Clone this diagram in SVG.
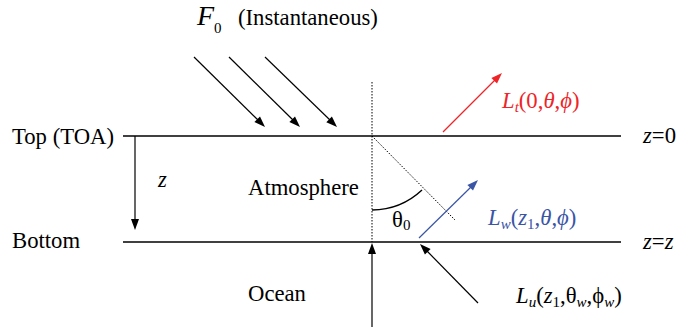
<svg xmlns="http://www.w3.org/2000/svg" width="680" height="327" viewBox="0 0 680 327">
<style>
.t{font-size:22.7px}
.i{font-style:italic}
.sub{font-size:15px}
.red{fill:#ee2428}
.blue{fill:#3a55a6}
.ln{stroke:#000;stroke-width:1.5;fill:none}
.ar{stroke:#000;stroke-width:1.2;fill:none}
.hd{fill:#000;stroke:none}
.dot{stroke:#000;stroke-width:1;stroke-dasharray:1.5 1.5;fill:none}
</style>
<rect width="680" height="327" fill="#fff"/>
<g id="layers">
<line class="ln" x1="123" y1="136" x2="621" y2="136"/>
<line class="ln" x1="123" y1="242" x2="621" y2="242"/>
</g>
<g id="connectors">
<line class="ar" x1="194" y1="57" x2="259" y2="121"/>
<polygon class="hd" points="265,127 254.4,122.1 260,116.4"/>
<line class="ar" x1="229" y1="57" x2="294" y2="121"/>
<polygon class="hd" points="300,127 289.4,122.1 295,116.4"/>
<line class="ar" x1="265" y1="57" x2="331" y2="121"/>
<polygon class="hd" points="337,127 326.3,122.2 331.9,116.5"/>
<line class="ar" x1="135" y1="136" x2="135" y2="221"/>
<polygon class="hd" points="135,230 131,219 139,219"/>
<line class="dot" x1="372" y1="82" x2="372" y2="242"/>
<line class="dot" x1="372" y1="136" x2="455" y2="220"/>
<path class="ln" d="M372,210 A74,74 0 0 0 422,190" style="stroke-width:1.4"/>
<line x1="443" y1="132" x2="496" y2="79" stroke="#ee2428" stroke-width="1.2"/>
<polygon points="502,73 497,83.6 491.4,78" fill="#ee2428"/>
<line x1="419" y1="238" x2="472" y2="186" stroke="#3a55a6" stroke-width="1.2"/>
<polygon points="478,180 473,190.6 467.4,184.9" fill="#3a55a6"/>
<line class="ar" x1="372" y1="327" x2="372" y2="252"/>
<polygon class="hd" points="372,243 368,254 376,254"/>
<line class="ar" x1="478" y1="303" x2="426" y2="250"/>
<polygon class="hd" points="420,244 430.6,249 424.9,254.6"/>
</g>
<g id="labels">
<text font-family="Liberation Serif" font-size="28" font-style="italic" x="197" y="25">F</text>
<text font-family="Liberation Serif" font-size="15" x="214" y="33">0</text>
<text font-family="Liberation Serif" font-size="22.7" x="238" y="25">(Instantaneous)</text>
<text font-family="Liberation Serif" font-size="22.7" x="12" y="144">Top (TOA)</text>
<text font-family="Liberation Serif" font-size="22.7" x="12" y="248">Bottom</text>
<text font-family="Liberation Serif" font-size="22.7" font-style="italic" x="158" y="187">z</text>
<text font-family="Liberation Serif" font-size="22.7" x="248" y="195">Atmosphere</text>
<text font-family="Liberation Serif" font-size="22.7" x="248" y="301">Ocean</text>
<text font-family="Liberation Serif" font-size="22.7" x="392" y="227">θ<tspan font-size="15" dy="3">0</tspan></text>
<text font-family="Liberation Serif" font-size="22.7" x="643" y="143"><tspan font-style="italic">z</tspan>=0</text>
<text font-family="Liberation Serif" font-size="22.7" x="643" y="249"><tspan font-style="italic">z</tspan>=<tspan font-style="italic">z</tspan></text>
<text font-family="Liberation Serif" font-size="22.7" fill="#ee2428" x="502" y="108"><tspan font-style="italic">L</tspan><tspan font-style="italic" font-size="15" dy="4">t</tspan><tspan dy="-4">(0,</tspan><tspan font-style="italic">θ</tspan>,<tspan font-style="italic">ϕ</tspan>)</text>
<text font-family="Liberation Serif" font-size="22.7" fill="#3a55a6" x="488" y="225"><tspan font-style="italic">L</tspan><tspan font-style="italic" font-size="15" dy="4">w</tspan><tspan dy="-4">(</tspan><tspan font-style="italic">z</tspan><tspan font-size="15" dy="4">1</tspan><tspan dy="-4">,</tspan><tspan font-style="italic">θ</tspan>,<tspan font-style="italic">ϕ</tspan>)</text>
<text font-family="Liberation Serif" font-size="22.7" x="516" y="303"><tspan font-style="italic">L</tspan><tspan font-style="italic" font-size="15" dy="4">u</tspan><tspan dy="-4">(</tspan><tspan font-style="italic">z</tspan><tspan font-size="15" dy="4">1</tspan><tspan dy="-4">,θ</tspan><tspan font-style="italic" font-size="15" dy="4">w</tspan><tspan dy="-4">,ϕ</tspan><tspan font-style="italic" font-size="15" dy="4">w</tspan><tspan dy="-4">)</tspan></text>
</g>
</svg>
